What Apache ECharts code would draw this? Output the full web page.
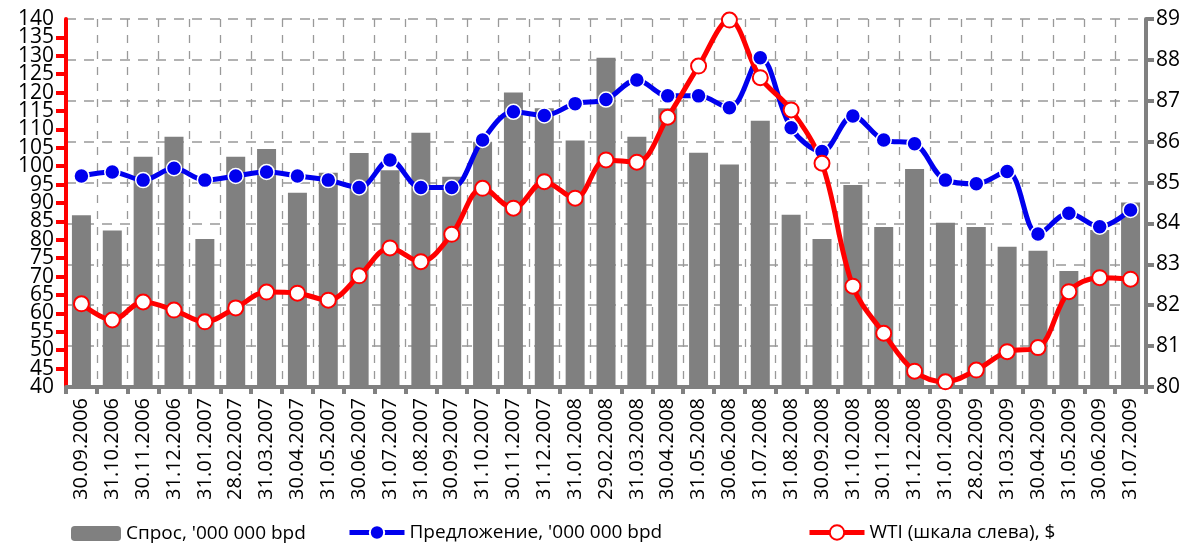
<!DOCTYPE html>
<html>
<head>
<meta charset="utf-8">
<script src="https://cdn.jsdelivr.net/npm/echarts@6/dist/echarts.min.js"></script>
<style>
  html, body { margin: 0; padding: 0; background: #fff; }
  #chart { width: 1190px; height: 545px; }
</style>
</head>
<body>
<div id="chart"></div>
<script>
// Даты (категории)
const fechas = [
  '30.09.2006', '31.10.2006', '30.11.2006', '31.12.2006', '31.01.2007', '28.02.2007',
  '31.03.2007', '30.04.2007', '31.05.2007', '30.06.2007', '31.07.2007', '31.08.2007',
  '30.09.2007', '31.10.2007', '30.11.2007', '31.12.2007', '31.01.2008', '29.02.2008',
  '31.03.2008', '30.04.2008', '31.05.2008', '30.06.2008', '31.07.2008', '31.08.2008',
  '30.09.2008', '31.10.2008', '30.11.2008', '31.12.2008', '31.01.2009', '28.02.2009',
  '31.03.2009', '30.04.2009', '31.05.2009', '30.06.2009', '31.07.2009'
];

// Спрос, '000 000 bpd (шкала справа)
const spros = [
  84.2, 83.83, 85.63, 86.12, 83.62, 85.63, 85.82, 84.75, 85.24, 85.72, 85.3, 86.22,
  85.14, 86.0, 87.2, 86.82, 86.03, 88.05, 86.12, 86.82, 85.73, 85.44, 86.51, 84.21,
  83.62, 84.94, 83.91, 85.33, 84.02, 83.91, 83.43, 83.33, 82.84, 83.84, 84.51
];

// Предложение, '000 000 bpd (шкала справа)
const predlozhenie = [
  85.16, 85.26, 85.06, 85.35, 85.06, 85.16, 85.26, 85.16, 85.06, 84.88, 85.55, 84.88,
  84.88, 86.04, 86.73, 86.64, 86.93, 87.03, 87.51, 87.12, 87.12, 86.83, 88.05, 86.34,
  85.76, 86.63, 86.04, 85.95, 85.06, 84.97, 85.27, 83.74, 84.25, 83.92, 84.33
];

// WTI, $ (шкала слева)
const wti = [
  62.6, 58.2, 63.1, 60.9, 57.7, 61.5, 65.8, 65.5, 63.6, 70.2, 77.8, 74.05,
  81.5, 94.0, 88.6, 95.8, 91.3, 101.7, 101.1, 113.3, 127.2, 139.7, 124.05, 115.3,
  100.8, 67.4, 54.6, 44.3, 41.4, 44.6, 49.6, 50.7, 65.9, 69.7, 69.3
];

const fuente = 'Open Sans';
const textoLeyenda = { fontSize: 19, color: '#000', fontFamily: fuente };

let myChart = echarts.init(document.getElementById('chart'));
myChart.setOption({
  animation: false,
  textStyle: { fontFamily: fuente },
  grid: { left: 66, right: 44, top: 19, bottom: 158 },
  legend: [
    {
      left: 66, top: 519, itemWidth: 50, itemHeight: 15,
      textStyle: textoLeyenda,
      data: ['Спрос, \'000 000 bpd']
    },
    {
      left: 342, top: 518, itemWidth: 55, itemHeight: 18,
      textStyle: textoLeyenda,
      lineStyle: { width: 5 },
      data: ['Предложение, \'000 000 bpd']
    },
    {
      left: 802, top: 518, itemWidth: 55, itemHeight: 18,
      textStyle: textoLeyenda,
      lineStyle: { width: 5 },
      data: ['WTI (шкала слева), $']
    }
  ],
  xAxis: {
    type: 'category',
    data: fechas,
    boundaryGap: true,
    axisLine: { lineStyle: { color: '#808080', width: 4 } },
    axisTick: { show: true, length: 7, lineStyle: { color: '#808080', width: 4 } },
    axisLabel: { rotate: 90, interval: 0, fontSize: 20, color: '#000', margin: 11 },
    splitLine: { show: true, interval: 0, lineStyle: { color: '#999', type: [8, 8], width: 1.3 } }
  },
  yAxis: [
    // шкала слева: подписи 40, 50, ... 140
    {
      type: 'value', min: 40, max: 140, interval: 10, position: 'left',
      axisLine: { show: false },
      axisTick: { show: false },
      axisLabel: {
        fontSize: 21, color: '#000', margin: 12,
        showMinLabel: true, showMaxLabel: true, hideOverlap: false
      },
      splitLine: { show: false }
    },
    // шкала слева: линия, штрихи и подписи 45, 55, ... 135
    {
      type: 'value', min: 40, max: 140, interval: 5, position: 'left',
      axisLine: { show: true, lineStyle: { color: '#ff0000', width: 4 } },
      axisTick: { show: true, length: 10, lineStyle: { color: '#ff0000', width: 4 } },
      axisLabel: {
        fontSize: 21, color: '#000', margin: 12,
        showMinLabel: false, showMaxLabel: false, hideOverlap: false,
        formatter: v => (v % 10 === 0 ? '' : String(v))
      },
      splitLine: { show: false }
    },
    {
      type: 'value', min: 80, max: 89, interval: 1, position: 'right',
      axisLine: { show: true, lineStyle: { color: '#808080', width: 4 } },
      axisTick: { show: true, length: 8, lineStyle: { color: '#808080', width: 4 } },
      axisLabel: {
        fontSize: 21, color: '#000', margin: 10,
        showMinLabel: true, showMaxLabel: true, hideOverlap: false
      },
      splitLine: { show: true, lineStyle: { color: '#999', type: [10, 8], width: 1.5 } }
    }
  ],
  series: [
    {
      name: 'Спрос, \'000 000 bpd',
      type: 'bar',
      yAxisIndex: 2,
      data: spros,
      barWidth: 19,
      itemStyle: { color: '#808080' }
    },
    {
      name: 'Предложение, \'000 000 bpd',
      type: 'line',
      yAxisIndex: 2,
      data: predlozhenie,
      smooth: 0.35,
      symbol: 'circle',
      symbolSize: 15,
      lineStyle: { color: '#0000ee', width: 5 },
      itemStyle: { color: '#0000ee', borderColor: '#fff', borderWidth: 1.5 }
    },
    {
      name: 'WTI (шкала слева), $',
      type: 'line',
      yAxisIndex: 0,
      data: wti,
      smooth: 0.35,
      symbol: 'circle',
      symbolSize: 15,
      lineStyle: { color: '#ff0000', width: 5 },
      itemStyle: { color: '#fff', borderColor: '#ff0000', borderWidth: 2 }
    }
  ]
});
</script>
</body>
</html>
